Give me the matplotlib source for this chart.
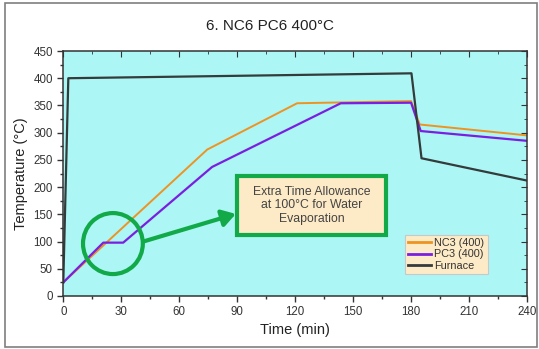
import matplotlib
matplotlib.use("Agg")
import matplotlib.pyplot as plt
from matplotlib.patches import Ellipse, Rectangle
from matplotlib.ticker import MultipleLocator

plt.rcParams['font.family'] = ['Liberation Sans', 'DejaVu Sans']

# Temperature profiles (time in min, temperature in °C)
nc3_time = [0, 74.5, 121, 180, 184.5, 240]
nc3_temp = [25, 269, 354, 358, 315, 295]

pc3_time = [0, 20.7, 31, 77, 143.6, 180, 185, 240]
pc3_temp = [25, 98, 98, 237, 354, 355, 303, 285]

furnace_time = [0, 2.6, 180.2, 185.4, 240]
furnace_temp = [25, 400, 409, 253, 212]

series_labels = ["NC3 (400)", "PC3 (400)", "Furnace"]
x_ticks = [0, 30, 60, 90, 120, 150, 180, 210, 240]
y_ticks = [0, 50, 100, 150, 200, 250, 300, 350, 400, 450]

fig = plt.figure(figsize=(5.39, 3.49), dpi=100)
fig.patch.set_facecolor('white')

# outer frame around the whole chart
fig.add_artist(Rectangle((5 / 539, 2 / 349), 532 / 539, 344 / 349,
                         transform=fig.transFigure, fill=False,
                         edgecolor='#7f7f7f', lw=1.2))

ax = fig.add_axes([63.3 / 539, 53 / 349, 463.7 / 539, 245 / 349])
ax.set_facecolor('#adf6f6')

ax.plot(nc3_time, nc3_temp, color='#ee9322', lw=1.4, label=series_labels[0])
ax.plot(pc3_time, pc3_temp, color='#7a1fe0', lw=1.6, label=series_labels[1])
ax.plot(furnace_time, furnace_temp, color='#333b3b', lw=1.6, label=series_labels[2])

ax.set_xlim(0, 240)
ax.set_ylim(0, 450)
ax.set_xticks(x_ticks)
ax.set_yticks(y_ticks)
ax.xaxis.set_minor_locator(MultipleLocator(15))
ax.yaxis.set_minor_locator(MultipleLocator(25))
ax.tick_params(which='both', direction='out', colors='#333333',
               labelsize=8.3, labelcolor='#333333', width=1.0)
ax.tick_params(which='major', length=4)
ax.tick_params(which='minor', length=2.5)
ax.tick_params(axis='x', pad=3)
for s in ax.spines.values():
    s.set_color('#333333')
    s.set_linewidth(1.1)

# mirrored inward ticks on top and right
axt = ax.secondary_xaxis('top')
axt.set_xticks(x_ticks)
axt.xaxis.set_minor_locator(MultipleLocator(15))
axt.tick_params(which='both', direction='in', labeltop=False, colors='#333333')
axt.tick_params(which='major', length=4)
axt.tick_params(which='minor', length=2.5)
axr = ax.secondary_yaxis('right')
axr.set_yticks(y_ticks)
axr.yaxis.set_minor_locator(MultipleLocator(25))
axr.tick_params(which='both', direction='in', labelright=False, colors='#333333')
axr.tick_params(which='major', length=4)
axr.tick_params(which='minor', length=2.5)
for a in (axt, axr):
    for s in a.spines.values():
        s.set_visible(False)

ax.set_xlabel("Time (min)", fontsize=10.5, color='#222222', labelpad=4)
ax.set_ylabel("Temperature (°C)", fontsize=10.5, color='#222222', labelpad=4)
fig.text(0.5, 1 - 26 / 349, "6. NC6 PC6 400°C", ha='center', va='center',
         fontsize=11, color='#222222')

green = '#12aa48'
# circle highlighting the 100 °C hold
ax.add_patch(Ellipse((0.107, 0.214), 0.129, 0.249, transform=ax.transAxes,
                     fill=False, edgecolor=green, lw=3, zorder=5))
# note box
ax.add_patch(Rectangle((0.3746, 0.249), 0.3214, 0.241, transform=ax.transAxes,
                       facecolor='#fdeac6', edgecolor=green, lw=3, zorder=5))
ax.text(0.535, 0.371, "Extra Time Allowance\nat 100°C for Water\nEvaporation",
        transform=ax.transAxes, ha='center', va='center', fontsize=8.8,
        color='#444444', linespacing=1.17, zorder=6)
ax.annotate("", xy=(0.372, 0.335), xytext=(0.172, 0.222),
            xycoords='axes fraction', textcoords='axes fraction',
            arrowprops=dict(arrowstyle='-|>,head_length=0.8,head_width=0.5',
                            color=green, lw=3, shrinkA=0, shrinkB=0),
            zorder=5)

leg = ax.legend(loc='lower left', bbox_to_anchor=(0.737, 0.09), fontsize=7.8,
                frameon=True, fancybox=False, handlelength=2.1,
                handletextpad=0.3, labelspacing=0.12, borderpad=0.3,
                borderaxespad=0)
leg.get_frame().set_facecolor('#fdeac6')
leg.get_frame().set_edgecolor('#c8c8c8')
leg.get_frame().set_linewidth(0.8)
leg.get_frame().set_alpha(1)
for t in leg.get_texts():
    t.set_color('#333333')
for h in leg.get_lines():
    h.set_linewidth(2.0)

fig.savefig("out.png", dpi=100)
